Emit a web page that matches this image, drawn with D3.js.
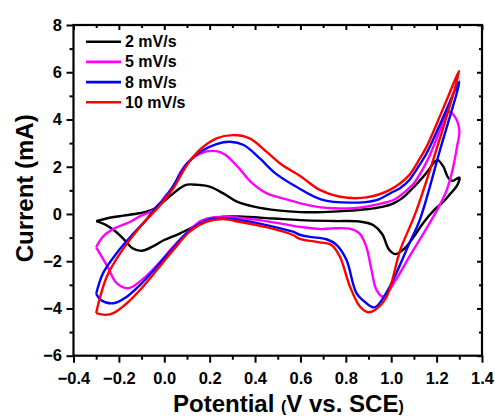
<!DOCTYPE html>
<html>
<head>
<meta charset="utf-8">
<script src="https://cdn.jsdelivr.net/npm/d3@7"></script>
<style>
html,body{margin:0;padding:0;background:#fff;}
svg{display:block;font-family:"Liberation Sans",Arial,sans-serif;font-weight:bold;}
</style>
</head>
<body>
<svg id="chart" width="495" height="416"></svg>
<script>
// ---- data ----
const seriesLabels = ["2 mV/s", "5 mV/s", "8 mV/s", "10 mV/s"];
const seriesColors = ["#000000", "#ff00ff", "#0000ff", "#ff0000"];

const potential2 = [-0.30,-0.25,-0.18,-0.11,-0.06,-0.03,0.00,0.04,0.07,0.10,0.15,0.20,0.26,0.32,0.40,0.50,0.60,0.70,0.80,0.89,0.96,1.01,1.05,1.09,1.12,1.16,1.19,1.205,1.23,1.25,1.27,1.30,
  1.29,1.26,1.23,1.19,1.14,1.10,1.06,1.02,0.99,0.96,0.92,0.86,0.75,0.60,0.48,0.33,0.26,0.20,0.16,0.07,0.00,-0.05,-0.10,-0.14,-0.18,-0.22,-0.26,-0.30];
const current2 = [-0.30,-0.18,-0.07,0.03,0.15,0.31,0.55,0.87,1.10,1.24,1.23,1.16,0.87,0.52,0.30,0.15,0.08,0.08,0.13,0.20,0.30,0.45,0.68,1.05,1.35,1.80,2.20,2.28,2.00,1.55,1.40,1.55,
  1.20,0.85,0.52,0.17,-0.39,-0.96,-1.45,-1.70,-1.50,-0.85,-0.47,-0.32,-0.30,-0.26,-0.19,-0.11,-0.12,-0.22,-0.39,-0.82,-1.10,-1.37,-1.56,-1.45,-1.05,-0.70,-0.45,-0.30];

const potential5 = [-0.30,-0.27,-0.22,-0.15,-0.11,-0.06,-0.02,0.00,0.04,0.07,0.10,0.16,0.23,0.27,0.33,0.38,0.45,0.55,0.60,0.69,0.75,0.83,0.89,0.96,1.01,1.05,1.08,1.10,1.16,1.215,1.25,1.275,1.30,
  1.29,1.27,1.245,1.21,1.16,1.08,1.02,0.965,0.935,0.913,0.89,0.86,0.82,0.74,0.69,0.60,0.55,0.41,0.29,0.22,0.16,0.11,0.04,-0.03,-0.10,-0.157,-0.21,-0.25,-0.30];
const current5 = [-1.41,-0.96,-0.61,-0.33,-0.11,0.10,0.38,0.70,1.16,1.75,2.14,2.57,2.66,2.50,1.93,1.37,0.88,0.59,0.45,0.28,0.24,0.24,0.31,0.45,0.59,0.85,1.10,1.30,2.28,3.55,4.33,4.19,3.55,
  2.85,1.86,1.02,0.31,-0.54,-1.81,-2.79,-3.50,-3.21,-2.37,-1.38,-0.82,-0.63,-0.61,-0.64,-0.55,-0.47,-0.25,-0.14,-0.14,-0.30,-0.70,-1.38,-2.15,-2.80,-3.14,-2.93,-2.23,-1.41];

const potential8 = [-0.30,-0.27,-0.21,-0.135,-0.08,-0.04,0.00,0.04,0.10,0.16,0.23,0.29,0.35,0.42,0.49,0.58,0.69,0.82,0.935,1.00,1.04,1.08,1.11,1.156,1.23,1.30,
  1.215,1.126,1.08,0.994,0.935,0.918,0.891,0.847,0.803,0.759,0.715,0.64,0.597,0.567,0.45,0.33,0.26,0.185,0.11,0.04,-0.033,-0.106,-0.165,-0.224,-0.28,-0.30];
const current8 = [-3.38,-2.51,-1.66,-0.82,-0.25,0.25,0.65,1.20,2.14,2.64,2.96,3.06,2.92,2.36,1.72,1.16,0.62,0.48,0.59,0.90,1.10,1.44,1.86,2.57,4.12,5.60,
  2.71,-0.25,-1.24,-3.07,-3.92,-3.95,-3.78,-3.35,-1.95,-1.31,-1.07,-0.97,-0.88,-0.75,-0.47,-0.25,-0.18,-0.27,-0.72,-1.42,-2.23,-3.00,-3.50,-3.78,-3.64,-3.38];

const potential10 = [-0.30,-0.29,-0.253,-0.194,-0.106,-0.02,0.04,0.10,0.156,0.23,0.30,0.376,0.45,0.52,0.597,0.685,0.774,0.89,0.994,1.075,1.12,1.156,1.229,1.30,
  1.112,1.04,0.98,0.93,0.898,0.862,0.818,0.774,0.737,0.685,0.597,0.567,0.45,0.33,0.26,0.185,0.112,0.04,-0.033,-0.106,-0.165,-0.224,-0.26,-0.30];
const current10 = [-4.20,-3.78,-2.65,-1.66,-0.54,0.35,1.09,2.07,2.71,3.20,3.34,3.20,2.64,2.07,1.62,1.02,0.73,0.70,1.02,1.60,2.25,2.85,4.47,6.06,
  0.17,-1.52,-3.50,-4.05,-4.16,-3.92,-3.07,-1.81,-1.31,-1.20,-1.05,-0.89,-0.56,-0.33,-0.22,-0.33,-0.75,-1.52,-2.37,-3.21,-3.78,-4.20,-4.27,-4.20];

const xMajorTicks = [-0.4,-0.2,0.0,0.2,0.4,0.6,0.8,1.0,1.2,1.4];
const xMinorTicks = [-0.3,-0.1,0.1,0.3,0.5,0.7,0.9,1.1,1.3];
const yMajorTicks = [-6,-4,-2,0,2,4,6,8];
const yMinorTicks = [-5,-3,-1,1,3,5,7];

const seriesPotential = [potential2, potential5, potential8, potential10];
const seriesCurrent = [current2, current5, current8, current10];

// ---- layout ----
const svg = d3.select("#chart");
const L = 73.5, R = 482, T = 25, B = 355.7;
const x = d3.scaleLinear().domain([-0.4, 1.4]).range([L, R]);
const y = d3.scaleLinear().domain([-6, 8]).range([B, T]);

function styleAxis(g) {
  g.select(".domain").remove();
  g.selectAll(".tick line").attr("stroke", "#000").attr("stroke-width", 2);
  g.selectAll(".tick text").attr("fill", "#000").style("font-size", "16.5px").style("font-weight", "bold")
    .style("font-family", '"Liberation Sans",Arial,sans-serif');
}

// bottom major
svg.append("g").attr("transform", `translate(0,${B})`)
  .call(d3.axisBottom(x).tickValues(xMajorTicks).tickSize(7).tickPadding(9.5).tickFormat(d3.format(".1f")))
  .call(styleAxis);
svg.append("g").attr("transform", `translate(0,${B})`)
  .call(d3.axisBottom(x).tickValues(xMinorTicks).tickSize(4).tickFormat(""))
  .call(styleAxis);
// top (inward)
svg.append("g").attr("transform", `translate(0,${T})`)
  .call(d3.axisTop(x).tickValues(xMajorTicks).tickSize(-5).tickFormat(""))
  .call(styleAxis);
svg.append("g").attr("transform", `translate(0,${T})`)
  .call(d3.axisTop(x).tickValues(xMinorTicks).tickSize(-3).tickFormat(""))
  .call(styleAxis);
// left major
svg.append("g").attr("transform", `translate(${L},0)`)
  .call(d3.axisLeft(y).tickValues(yMajorTicks).tickSize(7).tickPadding(4.5).tickFormat(d3.format("d")))
  .call(styleAxis);
svg.append("g").attr("transform", `translate(${L},0)`)
  .call(d3.axisLeft(y).tickValues(yMinorTicks).tickSize(4).tickFormat(""))
  .call(styleAxis);
// right (inward)
svg.append("g").attr("transform", `translate(${R},0)`)
  .call(d3.axisRight(y).tickValues(yMajorTicks).tickSize(-5).tickFormat(""))
  .call(styleAxis);
svg.append("g").attr("transform", `translate(${R},0)`)
  .call(d3.axisRight(y).tickValues(yMinorTicks).tickSize(-3).tickFormat(""))
  .call(styleAxis);

// curves
const line = d3.line()
  .x(d => x(d[0])).y(d => y(d[1]))
  .curve(d3.curveCatmullRom.alpha(0.5));

seriesPotential.forEach((pv, i) => {
  const pts = pv.map((v, j) => [v, seriesCurrent[i][j]]);
  svg.append("path").datum(pts)
    .attr("d", line)
    .attr("fill", "none")
    .attr("stroke", seriesColors[i])
    .attr("stroke-width", 2.4)
    .attr("stroke-linejoin", "round");
});

// frame
svg.append("rect").attr("x", L).attr("y", T).attr("width", R - L).attr("height", B - T)
  .attr("fill", "none").attr("stroke", "#000").attr("stroke-width", 2.2);

// legend
const lg = svg.append("g");
seriesLabels.forEach((lab, i) => {
  const yy = 41.7 + i * 20.2;
  lg.append("line").attr("x1", 86).attr("x2", 121).attr("y1", yy).attr("y2", yy)
    .attr("stroke", seriesColors[i]).attr("stroke-width", 2.6);
  lg.append("text").attr("x", 125).attr("y", yy + 5.5)
    .style("font-size", "16px").text(lab);
});

// axis titles
const xt = svg.append("text").attr("x", 173).attr("y", 411.5).style("font-size", "24px");
xt.append("tspan").text("Potential ");
xt.append("tspan").style("font-size", "16px").text("(");
xt.append("tspan").text("V vs. SCE");
xt.append("tspan").style("font-size", "16px").text(")");

svg.append("text")
  .attr("transform", `translate(33,${(T + B) / 2 - 2}) rotate(-90)`)
  .attr("text-anchor", "middle")
  .style("font-size", "24px")
  .text("Current (mA)");
</script>
</body>
</html>
